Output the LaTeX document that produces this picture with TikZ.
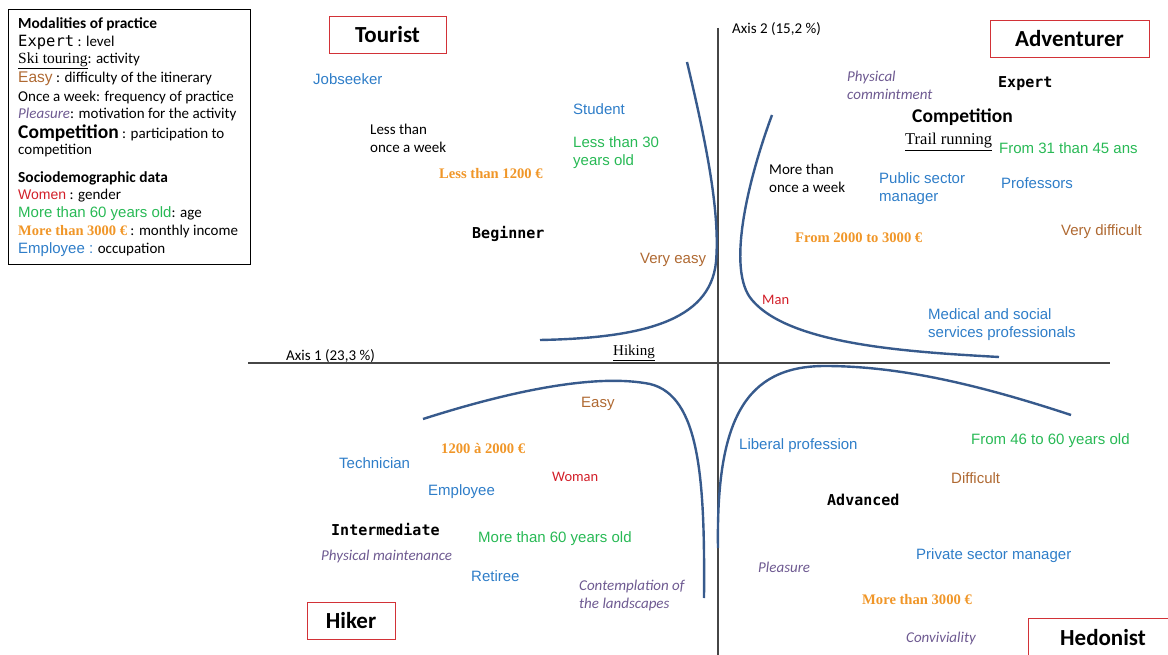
\documentclass[tikz,border=0pt]{standalone}
\usepackage{fontspec}
\setmainfont{Carlito}
\newfontfamily\arialf{Liberation Sans}
\newfontfamily\timesf{Liberation Serif}
\newfontfamily\monof{DejaVu Sans Mono}
\definecolor{cblue}{RGB}{46,125,200}
\definecolor{cgreen}{RGB}{40,185,85}
\definecolor{cbrown}{RGB}{175,105,50}
\definecolor{corange}{RGB}{240,150,40}
\definecolor{cred}{RGB}{210,30,40}
\definecolor{cpurple}{RGB}{110,90,145}
\definecolor{ccurve}{RGB}{55,90,140}
\definecolor{caxis}{RGB}{70,70,70}
\definecolor{cbox}{RGB}{210,50,55}
\tikzset{
  lbl/.style={anchor=west, inner sep=0pt, align=left},
  blk/.style={lbl, font=\fontsize{15}{18}\selectfont},
  blu/.style={lbl, text=cblue, font=\arialf\fontsize{15}{18}\selectfont},
  grn/.style={lbl, text=cgreen, font=\arialf\fontsize{15}{18}\selectfont},
  brn/.style={lbl, text=cbrown, font=\arialf\fontsize{15}{18}\selectfont},
  org/.style={lbl, text=corange, font=\timesf\bfseries\fontsize{14.6}{18}\selectfont},
  rd/.style={lbl, text=cred, font=\fontsize{14.5}{18}\selectfont},
  prp/.style={lbl, text=cpurple, font=\itshape\fontsize{15}{18}\selectfont},
  lvl/.style={lbl, font=\monof\bfseries\fontsize{15}{18}\selectfont},
  act/.style={lbl, font=\timesf\fontsize{15}{18}\selectfont},
  ax/.style={lbl, font=\fontsize{15}{16}\selectfont},
  typebox/.style={draw=cbox, line width=0.9pt, inner sep=0pt, font=\bfseries\fontsize{23}{26}\selectfont},
  curve/.style={draw=ccurve, line width=2.4pt},
  axis/.style={draw=caxis, line width=1.1pt},
  leg/.style={lbl, font=\fontsize{15}{17}\selectfont},
  legtitle/.style={lbl, font=\bfseries\fontsize{15.4}{17}\selectfont},
}
\begin{document}
\begin{tikzpicture}[x=1pt,y=-1pt]
\useasboundingbox (0,0) rectangle (1168,655);
% axes
\coordinate (hl) at (248,363);
\coordinate (hr) at (1110,363);
\coordinate (vt) at (718,28);
\coordinate (vb) at (718,655);
\draw[axis] (hl) -- (hr);
\draw[axis] (vt) -- (vb);
% curves
\draw[curve] (687,62) .. controls (708,150) and (720,215) .. (716,262)
  .. controls (710,322) and (640,338) .. (540,340);
\draw[curve] (772,115) .. controls (748,180) and (726,270) .. (752,300)
  .. controls (790,345) and (910,352) .. (999,357);
\draw[curve] (423,419) .. controls (520,388) and (600,374) .. (650,384)
  .. controls (700,396) and (705,480) .. (704,598);
\draw[curve] (718,548) .. controls (716,420) and (745,366) .. (825,366)
  .. controls (900,366) and (980,385) .. (1071,415);
% legend
\draw[line width=0.8pt] (8,9) rectangle (250,264);
\node[legtitle] (l1) at (18,24) {Modalities of practice};
\node[leg] (l2) at (18,42) {{\monof\fontsize{15.5}{17}\selectfont Expert} : level};
\node[leg] (l3) at (18,61) {{\timesf\fontsize{15.5}{17}\selectfont\underline{Ski touring}}: activity};
\node[leg] (l4) at (18,79) {{\arialf\fontsize{15.5}{17}\selectfont\color{cbrown}Easy} : difficulty of the itinerary};
\node[leg] (l5) at (18,98) {Once a week: frequency of practice};
\node[leg] (l6) at (18,115) {{\itshape\color{cpurple}Pleasure}: motivation for the activity};
\node[leg] (l7) at (18,133) {{\bfseries\fontsize{19.5}{17}\selectfont Competition} : participation to};
\node[leg] (l8) at (18,151) {competition};
\node[legtitle] (l9) at (18,178) {Sociodemographic data};
\node[leg] (l10) at (18,196) {{\arialf\fontsize{14}{17}\selectfont\color{cred}Women} : gender};
\node[leg] (l11) at (18,214) {{\arialf\fontsize{15}{17}\selectfont\color{cgreen}More than 60 years old}: age};
\node[leg] (l12) at (18,232) {{\timesf\bfseries\fontsize{14.5}{17}\selectfont\color{corange}More than 3000 €} : monthly income};
\node[leg] (l13) at (18,250) {{\arialf\fontsize{15}{17}\selectfont\color{cblue}Employee :} occupation};
% type boxes
\node[typebox, minimum width=117pt, minimum height=37pt] (tourist) at (387.5,34.5) {Tourist};
\node[typebox, minimum width=159pt, minimum height=37pt] (adventurer) at (1069.5,38.5) {Adventurer};
\node[typebox, minimum width=88pt, minimum height=37pt] (hiker) at (351,620.5) {Hiker};
\node[typebox, minimum width=150pt, minimum height=40pt] (hedonist) at (1103,638) {Hedonist};
% axis labels
\node[ax] (ax1) at (286,356) {Axis 1 (23,3 \%)};
\node[ax] (ax2) at (732,29) {Axis 2 (15,2 \%)};
% top-left
\node[blu] (jobseeker) at (313,79) {Jobseeker};
\node[blu] (student) at (573,109) {Student};
\node[grn] (lt30) at (573,153) {Less than 30\\years old};
\node[blk] (ltweek) at (370,138) {Less than\\once a week};
\node[org] (lt1200) at (439,174) {Less than 1200 €};
\node[lvl] (beginner) at (472,234) {Beginner};
\node[brn] (veryeasy) at (640,260) {Very easy};
\node[act] (hiking) at (613,353) {\underline{Hiking}};
% top-right
\node[prp] (physc) at (847,85) {Physical\\commintment};
\node[lvl] (expert) at (998,84) {Expert};
\node[lbl, font=\bfseries\fontsize{19.5}{20}\selectfont] (competition) at (912,117) {Competition};
\node[act, font=\timesf\fontsize{16.5}{18}\selectfont] (trail) at (905,142) {\underline{Trail running}};
\node[grn] (f31) at (999,148) {From 31 than 45 ans};
\node[blk] (mtweek) at (769,178) {More than\\once a week};
\node[blu] (public) at (879,189) {Public sector\\manager};
\node[blu] (prof) at (1001,183) {Professors};
\node[org] (f2000) at (795,238) {From 2000 to 3000 €};
\node[brn] (verydiff) at (1061,232) {Very difficult};
\node[rd] (man) at (762,300) {Man};
\node[blu] (medical) at (928,325) {Medical and social\\services professionals};
% bottom-left
\node[brn] (easy) at (581,404) {Easy};
\node[org] (f1200) at (441,448) {1200 à 2000 €};
\node[blu] (technician) at (339,463) {Technician};
\node[rd] (woman) at (552,477) {Woman};
\node[blu] (employee) at (428,492) {Employee};
\node[lvl] (intermediate) at (331,530) {Intermediate};
\node[prp] (physm) at (321,556) {Physical maintenance};
\node[grn] (mt60) at (478,539) {More than 60 years old};
\node[blu] (retiree) at (471,576) {Retiree};
\node[prp] (contemp) at (579,595) {Contemplation of\\the landscapes};
% bottom-right
\node[blu] (liberal) at (739,446) {Liberal profession};
\node[grn] (f46) at (971,441) {From 46 to 60 years old};
\node[brn] (difficult) at (951,478) {Difficult};
\node[lvl] (advanced) at (827,500) {Advanced};
\node[prp] (pleasure) at (758,567) {Pleasure};
\node[blu] (private) at (916,556) {Private sector manager};
\node[org] (mt3000) at (862,600) {More than 3000 €};
\node[prp] (convivial) at (906,638) {Conviviality};
\end{tikzpicture}
\end{document}
